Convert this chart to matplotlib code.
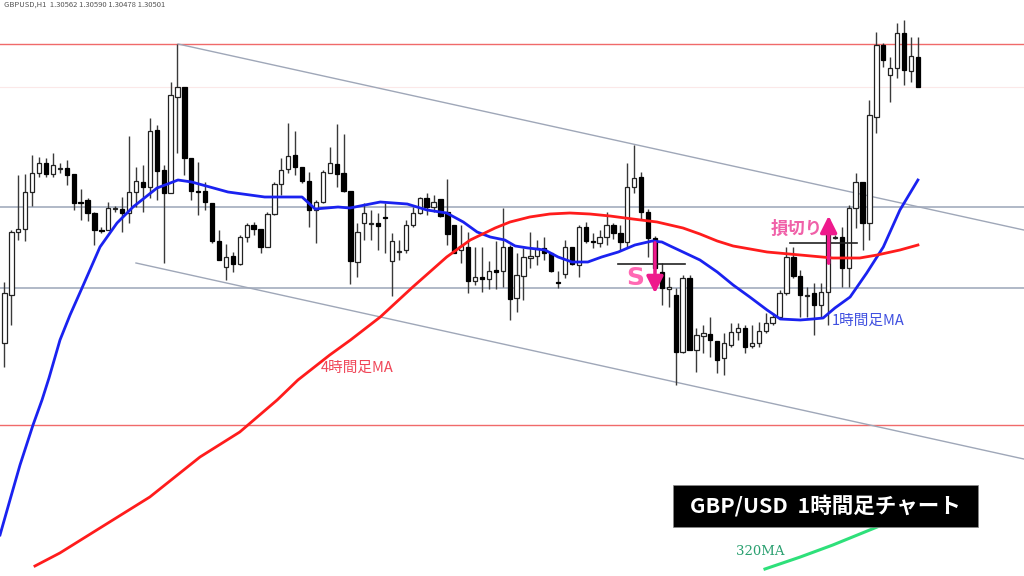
import matplotlib
matplotlib.use("Agg")
import matplotlib.pyplot as plt
from matplotlib.patches import Rectangle
import numpy as np

plt.rcParams['font.family'] = ['Noto Sans CJK JP', 'DejaVu Sans']

# ---- data: GBP/USD 1H candles, pips below reference level ----
REF = 1.3150
PIP = 0.0001
open_pips = [343,295,232,229,192,173,163,174,169,168,174,202,200,213,230,230,209,209,213,192,
             182,187,130,170,193,97,87,158,191,191,203,241,267,256,264,237,225,229,247,214,
             184,169,155,167,181,210,202,173,164,173,191,262,223,224,223,217,261,252,250,225,
             213,198,207,199,212,225,250,247,281,277,279,270,271,247,298,276,258,256,248,253,
             282,274,247,265,227,241,243,237,225,233,242,187,177,212,238,272,289,295,352,278,
             350,336,334,341,358,345,332,328,346,343,331,323,317,293,257,276,296,293,305,292,
             238,237,268,208,182,223,117,45,75,68,33,71,57]
high_pips = [282,230,175,174,155,157,158,153,163,160,174,189,198,212,227,202,206,197,136,167,
             165,118,125,165,82,44,87,158,162,182,203,230,244,252,235,223,222,229,212,182,
             158,123,131,167,172,200,170,147,124,134,191,223,203,210,213,203,233,240,220,207,
             197,193,195,199,179,225,225,232,247,247,261,241,208,245,253,248,232,240,237,253,
             271,240,247,225,222,233,230,212,223,225,163,145,172,209,236,263,277,288,275,275,
             328,325,317,341,333,323,323,325,325,322,313,313,290,247,247,270,287,283,283,220,
             235,227,205,173,182,100,32,43,57,23,20,37,37]
low_pips = [367,325,240,241,206,177,177,177,173,185,210,220,221,245,233,230,212,232,223,207,
            212,198,200,263,193,153,175,200,215,210,243,260,280,272,265,242,235,253,247,215,
            195,173,175,183,227,243,203,173,187,192,284,277,240,240,250,253,296,260,253,227,
            214,215,212,217,245,253,263,293,285,292,289,289,287,320,312,300,268,265,260,272,
            288,278,265,277,243,248,247,245,239,250,247,193,220,257,272,305,307,385,353,350,
            372,353,357,373,375,347,340,353,348,347,333,325,318,295,278,317,317,335,317,325,
            239,287,287,228,250,240,133,67,102,78,85,82,87]
close_pips = [293,232,229,192,173,163,174,165,168,175,203,203,213,230,231,208,208,213,192,181,
              187,131,171,193,95,87,158,191,192,202,241,260,257,264,237,225,229,247,214,184,
              170,156,167,181,210,202,172,163,174,191,261,232,213,223,226,218,241,251,225,213,
              198,207,202,216,234,253,246,281,277,279,271,272,247,299,275,257,256,248,253,271,
              283,247,264,227,241,242,237,225,233,242,187,178,212,238,268,288,287,352,278,350,
              335,333,340,360,343,332,328,347,343,331,323,317,293,257,276,295,295,305,292,233,
              237,268,208,182,223,115,45,60,68,33,70,56,87]

# moving averages (bar index, pips below reference)
ma1h_idx = [-0.65,0.79,2.24,4.12,5.42,6.43,8.02,9.47,11.2,13.8,16.26,18.57,22.04,23.2,25.07,27.05,
            32.3,37.6,43.0,44.9,48.2,49.9,54.3,58.2,61.05,63.9,66.3,68.3,70.2,72.3,73.8,75.65,
            78.1,80.0,82.0,84.3,86.3,88.7,91.1,93.6,95.0,96.2,98.05,100.5,103.0,105.3,107.7,
            110.2,112.1,115.0,116.8,118.3,120.0,122.2,124.6,127.0,129.4,132.0]
ma1h_pips = [535,500,465,425,400,378,340,315,288,247,223,207,188,185,180,182,
             192,197,197,209,207,208,202,204,210,213,222,232,237,240,246,248,
             250,257,262,262,257,252,245,241,242,246,252,260,272,285,297,
             310,319,320,319,318,308,297,273,247,210,180]
ma4h_idx = [4.4,8.0,13.8,21.0,28.25,34.0,39.4,42.4,47.0,50.0,54.3,59.0,63.9,67.3,70.9,73.05,
            75.9,78.8,81.7,84.6,87.5,90.8,94.3,98.05,100.5,103.0,105.3,110.2,115.0,119.7,123.6,
            126.1,129.4,132.0]
ma4h_pips = [566,553,528,497,457,432,400,380,355,340,317,287,257,240,228,222,
             217,214,213,214,216,219,222,228,234,241,246,252,255,258,258,
             255,250,245]
ma320_idx = [109.9,115.0,119.7,126.1,128.0]
ma320_pips = [569,557,545,527,521]

resistance_pips = [44, 425]
support_pips = [207, 288]
channel_upper = ([25.07, 147.3], [44, 230])
channel_lower = ([19.0, 147.3], [263, 459])

def price(p):
    return REF - np.asarray(p, dtype=float) * PIP

fig = plt.figure(figsize=(10.24, 5.76), dpi=100)
ax = fig.add_axes([0, 0, 1, 1])
ax.set_xlim(-0.65, 147.33)
ax.set_ylim(REF - 576 * PIP, REF)
ax.axis('off')

# horizontal lines
ax.axhline(price(87), color='#fbe8e8', lw=0.8, zorder=1)
for r in resistance_pips:
    ax.axhline(price(r), color='#f06a6a', lw=1.0, zorder=1)
for s in support_pips:
    ax.axhline(price(s), color='#a3adbd', lw=1.2, zorder=1)

# channel
ax.plot(channel_upper[0], price(channel_upper[1]), color='#9fa7b8', lw=1.0, zorder=1)
ax.plot(channel_lower[0], price(channel_lower[1]), color='#9fa7b8', lw=1.0, zorder=1)

# candles
o = price(open_pips); h = price(high_pips); l = price(low_pips); c = price(close_pips)
x = np.arange(len(o))
ax.vlines(x, l, h, color='#3a3a3a', lw=1.0, zorder=2)
bull = c >= o
body_lo = np.minimum(o, c)
body_h = np.maximum(np.abs(c - o), 0.6 * PIP)
ax.bar(x[bull], body_h[bull], bottom=body_lo[bull], width=0.62, facecolor='white',
       edgecolor='#222222', linewidth=0.9, zorder=3)
ax.bar(x[~bull], body_h[~bull], bottom=body_lo[~bull], width=0.62, facecolor='black',
       edgecolor='black', linewidth=0.9, zorder=3)

# moving averages
ax.plot(ma1h_idx, price(ma1h_pips), color='#1a22f0', lw=2.0, zorder=4)
ax.plot(ma4h_idx, price(ma4h_pips), color='#ff1c1c', lw=2.0, zorder=4)
ax.plot(ma320_idx, price(ma320_pips), color='#2ee07a', lw=2.2, zorder=4)

# entry / stop lines
ax.plot([88.7, 98.3], price([264, 264]), color='#222222', lw=1.2, zorder=5)
ax.plot([113.5, 123.2], price([243, 243]), color='#222222', lw=1.2, zorder=5)

# arrows
pink = '#ee1a8c'
ax.annotate('', xy=(94.0, price(296)), xytext=(94.0, price(240)),
            arrowprops=dict(arrowstyle='-|>,head_width=0.5,head_length=1.0', color=pink, lw=2.5),
            zorder=6)
ax.annotate('', xy=(119.1, price(213)), xytext=(119.1, price(266)),
            arrowprops=dict(arrowstyle='-|>,head_width=0.5,head_length=1.0', color=pink, lw=2.5),
            zorder=6)

ax.text(91.1, price(278), 'S', color='#ff69b4', fontsize=18, fontweight='bold',
        ha='center', va='center', family=['DejaVu Sans'], zorder=6)
ax.text(114.5, price(229), '損切り', color='#f060a8', fontsize=12.5, fontweight='bold',
        ha='center', va='center', zorder=6)
ax.text(119.6, price(321), '1時間足MA', color='#4050e0', fontsize=10.5,
        ha='left', va='center', zorder=6)
ax.text(45.7, price(368), '4時間足MA', color='#f04658', fontsize=10.5,
        ha='left', va='center', zorder=6)
ax.text(105.7, price(552), '320MA', color='#2aa070', fontsize=9.5,
        ha='left', va='center', family=['DejaVu Serif'], zorder=6)

# title box
ax.add_patch(Rectangle((96.6, price(527)), 44.1, 42 * PIP, facecolor='black',
                       edgecolor='#888888', lw=0.5, zorder=7))
ax.text(118.65, price(506), 'GBP/USD  1時間足チャート', color='white', fontsize=15.5,
        fontweight='bold', ha='center', va='center', zorder=8)

# top-left info text
ax.text(0.0, price(5), 'GBPUSD,H1  1.30562 1.30590 1.30478 1.30501', color='#555555',
        fontsize=5.5, ha='left', va='center', zorder=8)

fig.savefig('out.png', dpi=100, facecolor='white')
